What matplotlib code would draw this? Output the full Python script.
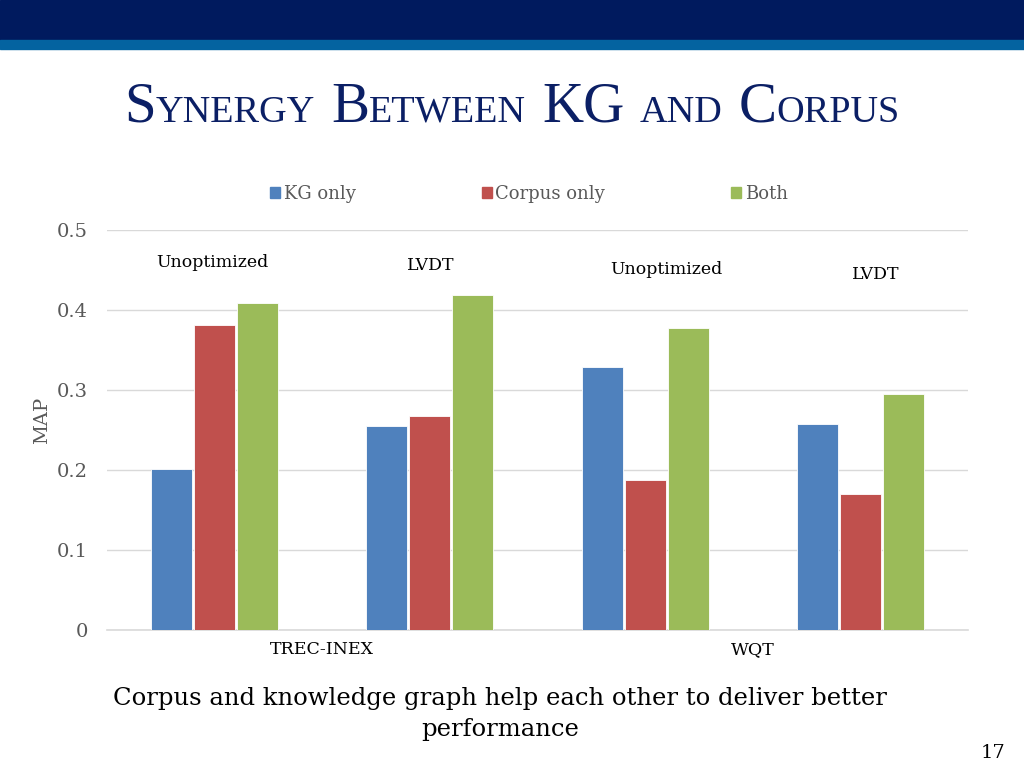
import matplotlib.pyplot as plt
import numpy as np
from matplotlib.patches import Rectangle, Patch

# Data
settings = ['Unoptimized', 'LVDT', 'Unoptimized', 'LVDT']
datasets = ['TREC-INEX', 'WQT']
series = ['KG only', 'Corpus only', 'Both']
kg_only = [0.201, 0.255, 0.329, 0.257]
corpus_only = [0.381, 0.267, 0.188, 0.170]
both = [0.409, 0.419, 0.377, 0.295]
colors = ['#4F81BD', '#C0504D', '#9BBB59']

W, H = 1024, 768
fig = plt.figure(figsize=(W / 100, H / 100), dpi=100)

def fx(px):
    return px / W

def fy(py):
    return 1 - py / H

# header bands
fig.patches.append(Rectangle((0, fy(40)), 1, 40 / H, transform=fig.transFigure,
                             color='#001A5E', zorder=0))
fig.patches.append(Rectangle((0, fy(49)), 1, 9 / H, transform=fig.transFigure,
                             color='#0463A0', zorder=0))

# title in small caps
title_parts = [('S', 41), ('YNERGY', 27.5), (' ', 16), ('B', 41), ('ETWEEN', 27.5), (' ', 16),
               ('KG', 41), (' ', 16), ('AND', 27.5), (' ', 16), ('C', 41), ('ORPUS', 27.5)]
renderer = fig.canvas.get_renderer()
texts = []
x = 0.0
for s, size in title_parts:
    if s == ' ':
        x += size / W  # gap in pixels
        continue
    t = fig.text(x, fy(122), s, fontsize=size, family='Liberation Serif',
                 color='#0B1F65', va='baseline', ha='left')
    bb = t.get_window_extent(renderer)
    texts.append(t)
    x += bb.width / W
total = x
start = fx(512) - total / 2
for t in texts:
    px, py = t.get_position()
    t.set_position((px + start, py))

# axes
ax = fig.add_axes([fx(107), fy(630), fx(968) - fx(107), (630 - 230) / H])
pos = np.arange(len(settings))
width = 0.19
for i, (vals, name) in enumerate(zip([kg_only, corpus_only, both], series)):
    ax.bar(pos + (i - 1) * 0.2, vals, width, color=colors[i], label=name,
           edgecolor='white', linewidth=0.6, zorder=3)

ax.set_xlim(-0.5, len(settings) - 0.5)
ax.set_ylim(0, 0.5)
ax.set_yticks([0, 0.1, 0.2, 0.3, 0.4, 0.5])
ax.set_yticklabels(['0', '0.1', '0.2', '0.3', '0.4', '0.5'])
ax.grid(axis='y', color='#D9D9D9', linewidth=1, zorder=0)
ax.axhline(0, color='#D9D9D9', linewidth=1.2, zorder=1, clip_on=False)
ax.set_axisbelow(True)
for sp in ax.spines.values():
    sp.set_visible(False)
ax.set_xticks([])
ax.tick_params(axis='y', length=0, pad=13.5, labelsize=14, labelcolor='#595959')
for lab in ax.get_yticklabels():
    lab.set_family('DejaVu Serif')
fig.text(fx(42), fy(420), 'MAP', rotation=90, ha='center', va='center',
         fontsize=14, color='#595959', family='DejaVu Serif')

# setting labels above groups
label_pos = [(-0.01, 0.459), (1.005, 0.456), (2.10, 0.451), (3.07, 0.444)]
for (lx, ly), s in zip(label_pos, settings):
    ax.text(lx, ly, s, ha='center', va='center', fontsize=12.5,
            family='DejaVu Serif', color='black')

# dataset labels below axis
for i, d in enumerate(datasets):
    ax.text(2 * i + 0.5, -0.025, d, ha='center', va='center', fontsize=12.5,
            family='DejaVu Serif', color='black', clip_on=False)

# legend
handles = [Patch(color=c) for c in colors]
fig.legend(handles, series, loc='center', bbox_to_anchor=(fx(529), fy(194)),
           ncol=3, frameon=False, handlelength=0.55, handleheight=0.55,
           handletextpad=0.2, columnspacing=7.0, labelcolor='#595959',
           prop={'family': 'DejaVu Serif', 'size': 13})

# caption and page number
fig.text(fx(500), fy(714), 'Corpus and knowledge graph help each other to deliver better\nperformance',
         ha='center', va='center', fontsize=17.5, family='DejaVu Serif', color='black',
         linespacing=1.4)
fig.text(fx(993), fy(753), '17', ha='center', va='center', fontsize=14,
         family='DejaVu Serif', color='black')

plt.savefig('out.png', dpi=100)
